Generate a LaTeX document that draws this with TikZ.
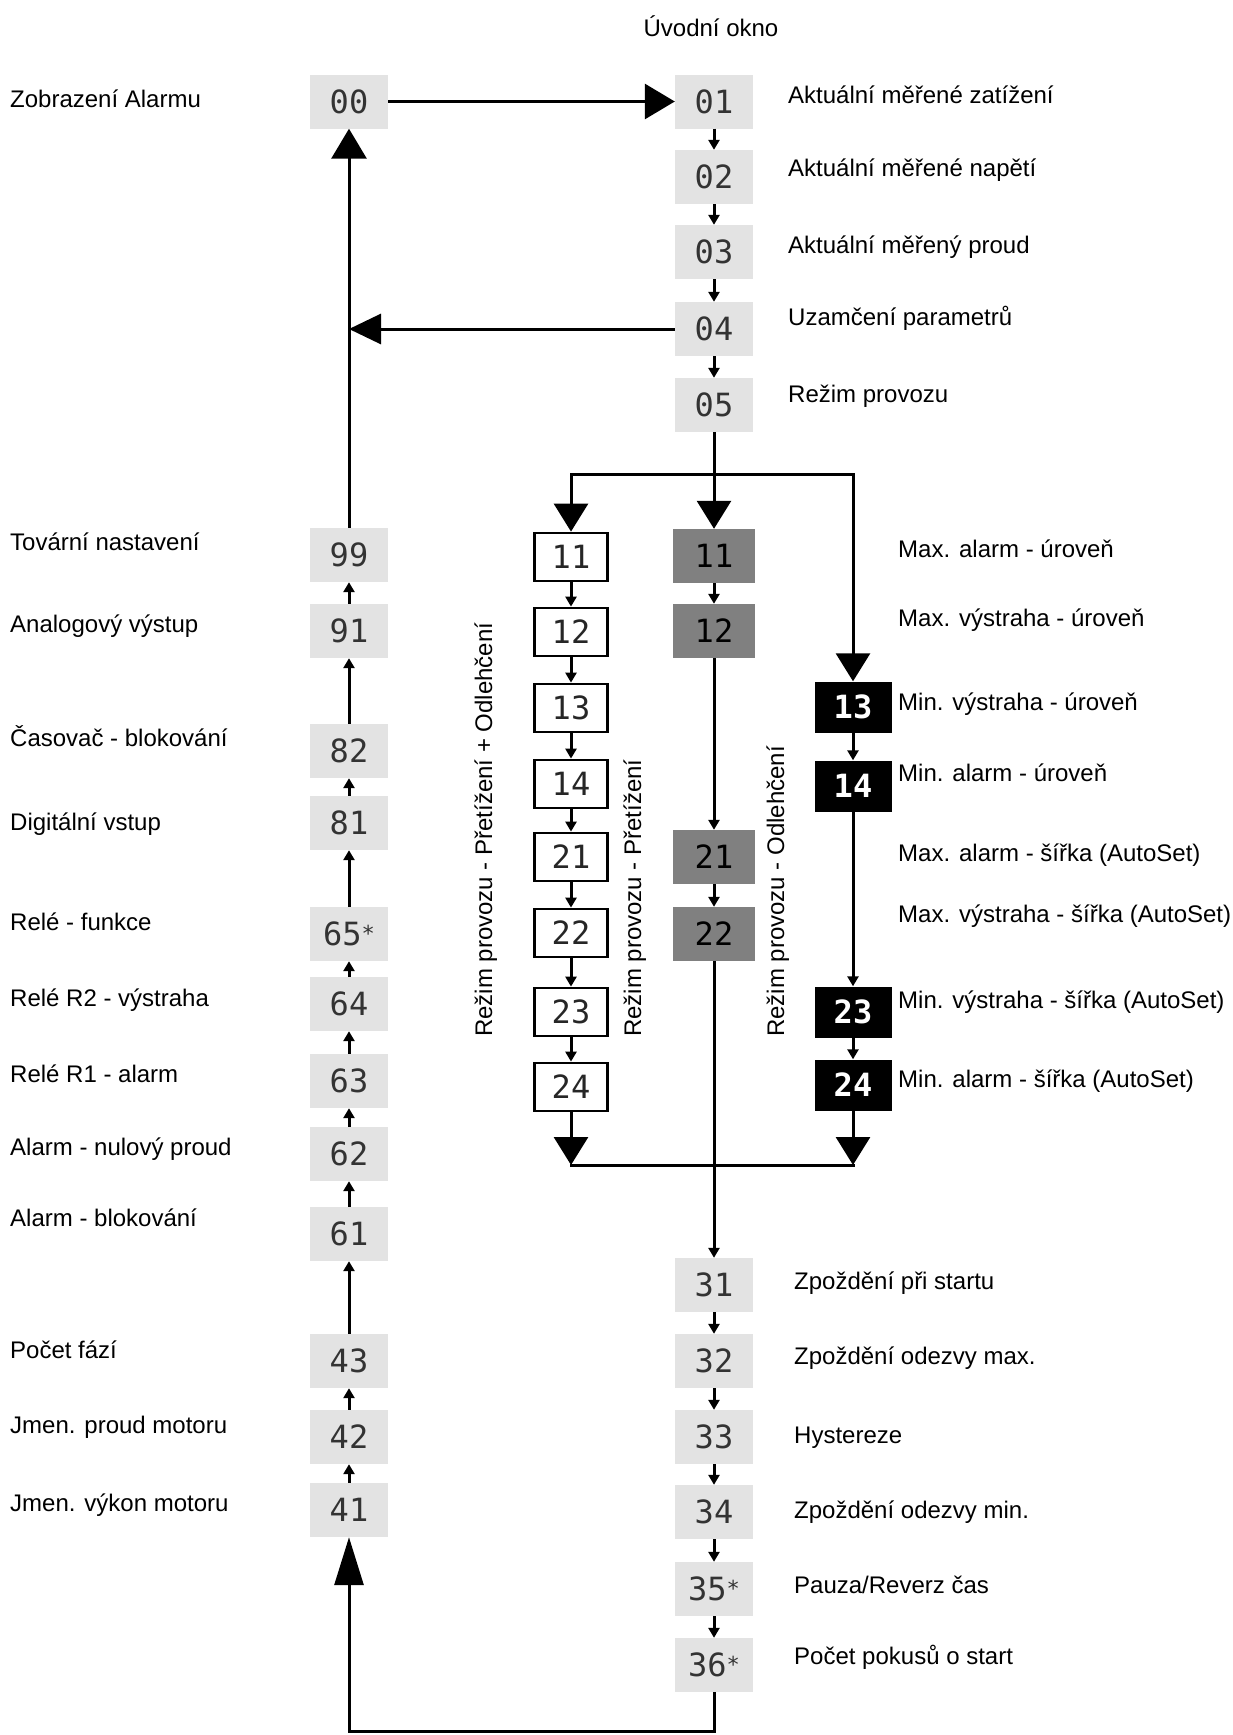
\documentclass[tikz,border=0pt]{standalone}
\usepackage{fontspec}
\setmainfont{Liberation Sans}
\newfontfamily\digfam{DejaVu Sans Mono}
\usetikzlibrary{arrows.meta}
\newcommand\astr{{\fontsize{22}{24}\selectfont\raisebox{4pt}{*}}}
\begin{document}
\begin{tikzpicture}[x=1pt,y=-1pt,
  box/.style={inner sep=0pt, font=\digfam\fontsize{32}{36}\selectfont},
  lg/.style={box, fill=black!11, text=black!80, minimum width=78pt, minimum height=54pt},
  wb/.style={box, draw=black, line width=2.8pt, fill=white, text=black!85, minimum width=73pt, minimum height=48pt},
  mg/.style={box, fill=black!50, text=black, minimum width=82pt, minimum height=54pt},
  bb/.style={box, fill=black, text=white, font=\digfam\bfseries\fontsize{32}{36}\selectfont, minimum width=77pt, minimum height=51pt},
  lbl/.style={anchor=base west, inner sep=0pt, font=\fontsize{24}{28}\selectfont},
  vlbl/.style={lbl, rotate=90},
  conn/.style={line width=3pt},
  sm/.style={conn, -{Triangle[width=11pt,length=10pt]}},
  big/.style={conn, -{Triangle[width=35pt,length=30pt]}},
  bigl/.style={conn, -{Triangle[width=30pt,length=32pt]}},
  bigd/.style={conn, -{Triangle[width=34pt,length=28pt]}},
  bigb/.style={conn, -{Triangle[width=29pt,length=48pt]}},
]
\useasboundingbox (0,0) rectangle (1232,1735);

% left column
\node[lg] (n00) at (349,101.5) {00};
\node[lg] (n99) at (349,555) {99};
\node[lg] (n91) at (349,631) {91};
\node[lg] (n82) at (349,751) {82};
\node[lg] (n81) at (349,823) {81};
\node[lg] (n65) at (349,934) {65\astr};
\node[lg] (n64) at (349,1004) {64};
\node[lg] (n63) at (349,1081) {63};
\node[lg] (n62) at (349,1154) {62};
\node[lg] (n61) at (349,1234) {61};
\node[lg] (n43) at (349,1361) {43};
\node[lg] (n42) at (349,1437) {42};
\node[lg] (n41) at (349,1510) {41};

% top right column
\node[lg] (n01) at (714,101.5) {01};
\node[lg] (n02) at (714,177) {02};
\node[lg] (n03) at (714,252) {03};
\node[lg] (n04) at (714,329) {04};
\node[lg] (n05) at (714,405) {05};

% white column
\node[wb] (w11) at (571,557) {11};
\node[wb] (w12) at (571,632) {12};
\node[wb] (w13) at (571,708) {13};
\node[wb] (w14) at (571,784) {14};
\node[wb] (w21) at (571,857) {21};
\node[wb] (w22) at (571,933) {22};
\node[wb] (w23) at (571,1012) {23};
\node[wb] (w24) at (571,1087) {24};

% grey column
\node[mg] (g11) at (714,556) {11};
\node[mg] (g12) at (714,631) {12};
\node[mg] (g21) at (714,857) {21};
\node[mg] (g22) at (714,934) {22};

% black column
\node[bb] (b13) at (853,707) {13};
\node[bb] (b14) at (853,786) {14};
\node[bb] (b23) at (853,1012) {23};
\node[bb] (b24) at (853,1085) {24};

% bottom right column
\node[lg] (n31) at (714,1285) {31};
\node[lg] (n32) at (714,1361) {32};
\node[lg] (n33) at (714,1437) {33};
\node[lg] (n34) at (714,1512) {34};
\node[lg] (n35) at (714,1589) {35\astr};
\node[lg] (n36) at (714,1665) {36\astr};

% coordinates
\coordinate (jt) at (714,474);
\coordinate (jl) at (571,474);
\coordinate (jr) at (853,474);
\coordinate (bl) at (571,1165);
\coordinate (br) at (853,1165);
\coordinate (lc1) at (714,1731);
\coordinate (lc2) at (n41.south |- lc1);

% connectors
\draw[big] (n00.east) -- (n01.west);
\draw[big] (n99.north) -- (n00.south);
\draw[bigl] (n04.west) -- (n04.west -| n00.south);

\foreach \a/\b in {n01/n02,n02/n03,n03/n04,n04/n05,
  w11/w12,w12/w13,w13/w14,w14/w21,w21/w22,w22/w23,w23/w24,
  g11/g12,g12/g21,g21/g22,g22/n31,
  b13/b14,b14/b23,b23/b24,
  n31/n32,n32/n33,n33/n34,n34/n35,n35/n36}
  \draw[sm] (\a.south) -- (\b.north);

\foreach \a/\b in {n41/n42,n42/n43,n43/n61,n61/n62,n62/n63,n63/n64,
  n64/n65,n65/n81,n81/n82,n82/n91,n91/n99}
  \draw[sm] (\a.north) -- (\b.south);

\draw[conn] (n05.south) -- (jt);
\draw[conn, line cap=rect] (jl) -- (jr);
\draw[bigd] (jl) -- (w11.north);
\draw[bigd] (jt) -- (g11.north);
\draw[bigd] (jr) -- (b13.north);
\draw[bigd] (w24.south) -- (bl);
\draw[bigd] (b24.south) -- (br);
\draw[conn, line cap=rect] (bl) -- (br);
\draw[bigb] (n36.south) -- (lc1) -- (lc2) -- (n41.south);

% labels
\node[lbl, anchor=base] (title) at (711,36) {Úvodní okno};

\node[lbl] (l00) at (10,107) {Zobrazení Alarmu};
\node[lbl] (l99) at (10,550.5) {Tovární nastavení};
\node[lbl] (l91) at (10,632.5) {Analogový výstup};
\node[lbl] (l82) at (10,746.5) {Časovač - blokování};
\node[lbl] (l81) at (10,830.5) {Digitální vstup};
\node[lbl] (l65) at (10,930.5) {Relé - funkce};
\node[lbl] (l64) at (10,1006.5) {Relé R2 - výstraha};
\node[lbl] (l63) at (10,1082.5) {Relé R1 - alarm};
\node[lbl] (l62) at (10,1155.5) {Alarm - nulový proud};
\node[lbl] (l61) at (10,1226.5) {Alarm - blokování};
\node[lbl] (l43) at (10,1358.5) {Počet fází};
\node[lbl] (l42) at (10,1433.5) {Jmen. proud motoru};
\node[lbl] (l41) at (10,1511.5) {Jmen. výkon motoru};

\node[lbl] (l01) at (788,103.5) {Aktuální měřené zatížení};
\node[lbl] (l02) at (788,176.5) {Aktuální měřené napětí};
\node[lbl] (l03) at (788,253.5) {Aktuální měřený proud};
\node[lbl] (l04) at (788,325.5) {Uzamčení parametrů};
\node[lbl] (l05) at (788,402.5) {Režim provozu};

\node[lbl] (m11) at (898,557.5) {Max. alarm - úroveň};
\node[lbl] (m12) at (898,626.5) {Max. výstraha - úroveň};
\node[lbl] (m13) at (898,710.5) {Min. výstraha - úroveň};
\node[lbl] (m14) at (898,781.5) {Min. alarm - úroveň};
\node[lbl] (m21) at (898,861.5) {Max. alarm - šířka (AutoSet)};
\node[lbl] (m22) at (898,922.5) {Max. výstraha - šířka (AutoSet)};
\node[lbl] (m23) at (898,1008.5) {Min. výstraha - šířka (AutoSet)};
\node[lbl] (m24) at (898,1087.5) {Min. alarm - šířka (AutoSet)};

\node[lbl] (l31) at (794,1289.5) {Zpoždění při startu};
\node[lbl] (l32) at (794,1364.5) {Zpoždění odezvy max.};
\node[lbl] (l33) at (794,1443.5) {Hystereze};
\node[lbl] (l34) at (794,1518.5) {Zpoždění odezvy min.};
\node[lbl] (l35) at (794,1593.5) {Pauza/Reverz čas};
\node[lbl] (l36) at (794,1664.5) {Počet pokusů o start};

\node[vlbl] (v1) at (492,1037) {Režim provozu - Přetížení + Odlehčení};
\node[vlbl] (v2) at (641,1037) {Režim provozu - Přetížení};
\node[vlbl] (v3) at (784,1037) {Režim provozu - Odlehčení};
\end{tikzpicture}
\end{document}
